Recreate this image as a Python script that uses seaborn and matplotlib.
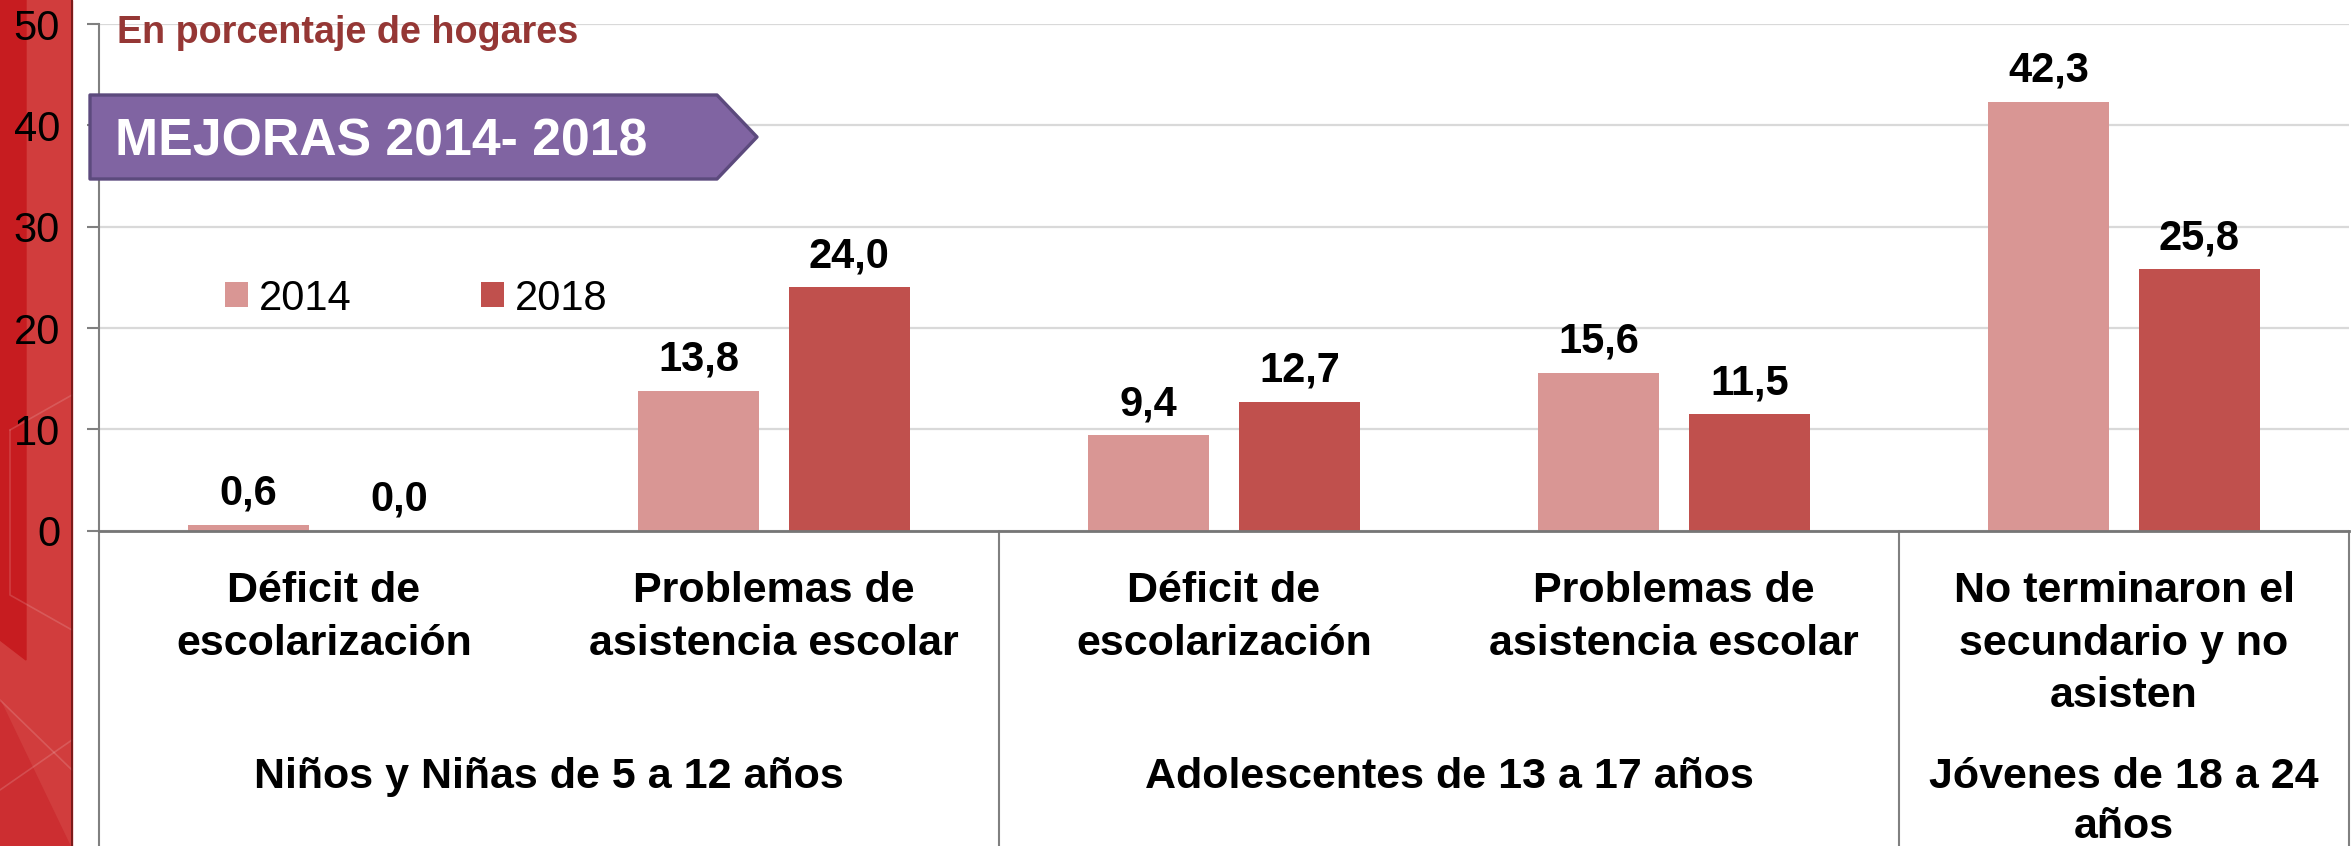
import numpy as np
import pandas as pd
import seaborn as sns
import matplotlib.pyplot as plt
import matplotlib.transforms as mtransforms
from matplotlib.patches import Polygon, Rectangle

W, H = 2351, 846

# data
indicators = ["def_5_12", "asis_5_12", "def_13_17", "asis_13_17", "sec_18_24"]
tick_labels = ["Déficit de\nescolarización", "Problemas de\nasistencia escolar",
               "Déficit de\nescolarización", "Problemas de\nasistencia escolar",
               "No terminaron el\nsecundario y no\nasisten"]
groups = ["Niños y Niñas de 5 a 12 años", "Adolescentes de 13 a 17 años",
          "Jóvenes de 18 a 24\naños"]
group_spans = [(0, 1), (2, 3), (4, 4)]
years = ["2014", "2018"]
values_2014 = [0.6, 13.8, 9.4, 15.6, 42.3]
values_2018 = [0.0, 24.0, 12.7, 11.5, 25.8]
y_ticks = [0, 10, 20, 30, 40, 50]

df = pd.DataFrame({
    "indicador": indicators * 2,
    "anio": [years[0]] * 5 + [years[1]] * 5,
    "valor": values_2014 + values_2018,
})

sns.set_style("white")
plt.rcParams['font.family'] = ['Liberation Sans', 'DejaVu Sans']
plt.rcParams['text.color'] = 'black'
plt.rcParams['xtick.color'] = 'black'
plt.rcParams['ytick.color'] = 'black'


def px(x, y):
    return (x / W, 1 - y / H)


fig = plt.figure(figsize=(W / 100, H / 100), dpi=100)
ax_h = 506.7
ax = fig.add_axes([99 / W, 1 - 530.7 / H, 2250 / W, ax_h / H])

sns.barplot(df, x="indicador", y="valor", hue="anio", order=indicators,
            hue_order=years, palette={"2014": "#D99694", "2018": "#C0504D"},
            width=0.67, gap=0.2, saturation=1, errorbar=None, linewidth=0, ax=ax)

ax.set_ylim(0, 50)
ax.set_xlim(-0.5, 4.5)
ax.set_xlabel("")
ax.set_ylabel("")

for cont, vals in zip(ax.containers, [values_2014, values_2018]):
    ax.bar_label(cont, labels=[f"{v:.1f}".replace(".", ",") for v in vals],
                 padding=8, fontsize=30, fontweight="bold", color="black")

# axes styling
ax.set_axisbelow(True)
ax.yaxis.grid(True, color="#D9D9D9", lw=1.6)
ax.xaxis.grid(False)
for s in ["top", "right"]:
    ax.spines[s].set_visible(False)
ax.spines["left"].set_color("#808080")
ax.spines["left"].set_linewidth(1.5)
ax.spines["bottom"].set_color("#767676")
ax.spines["bottom"].set_linewidth(2)

ax.set_yticks(y_ticks)
ax.tick_params(axis="y", length=8.6, width=1.5, color="#808080", pad=19.4,
               labelsize=30, labelcolor="black", left=True)
ax.set_xticks(range(len(indicators)))
ax.tick_params(axis="x", length=0, labelbottom=False)

# lower category table
blend = mtransforms.blended_transform_factory(ax.transData, ax.transAxes)
for x in [-0.5, 1.5, 3.5, 4.5]:
    ax.plot([x, x], [0, -0.7], transform=blend, clip_on=False,
            color="#808080", lw=1.5)

cat_base, cat_step = -71.3 / ax_h, 52.5 / ax_h
for i, lab in enumerate(tick_labels):
    for j, line in enumerate(lab.split("\n")):
        ax.text(i, cat_base - j * cat_step, line, transform=blend,
                ha="center", va="baseline", fontsize=31, fontweight="bold")

grp_base, grp_step = -257.3 / ax_h, 50 / ax_h
for (a, b), g in zip(group_spans, groups):
    for j, line in enumerate(g.split("\n")):
        ax.text((a + b) / 2, grp_base - j * grp_step, line, transform=blend,
                ha="center", va="baseline", fontsize=31, fontweight="bold")

# legend
sns.move_legend(ax, "center left",
                bbox_to_anchor=((225 - 99) / 2250, (530.7 - 298.5) / ax_h),
                ncol=2, title=None, frameon=False, fontsize=30,
                handlelength=0.55, handleheight=0.55, handletextpad=0.27,
                columnspacing=3.1, borderpad=0, borderaxespad=0)

# red side stripe
fig.add_artist(Rectangle(px(0, 846), 72 / W, 1, transform=fig.transFigure,
                         color="#D13D3D", zorder=-2))
fig.add_artist(Polygon([px(0, 0), px(26, 0), px(26, 660), px(0, 640)],
                       transform=fig.transFigure, color="#C71C20", zorder=-1.5))
fig.add_artist(Polygon([px(0, 700), px(72, 850), px(0, 846)],
                       transform=fig.transFigure, color="#CC2E31", zorder=-1.5))
for seg in [[(10, 430), (10, 595), (72, 630)], [(0, 700), (72, 770)],
            [(0, 790), (72, 740)], [(10, 430), (72, 395)]]:
    xs, ys = zip(*[px(x, y) for x, y in seg])
    fig.add_artist(plt.Line2D(xs, ys, transform=fig.transFigure,
                              color="white", alpha=0.15, lw=1.2, zorder=-1))
fig.add_artist(plt.Line2D([72 / W, 72 / W], [0, 1], transform=fig.transFigure,
                          color="#6B1515", lw=1.2, zorder=-1))

# banner
fig.add_artist(Polygon([px(90, 95), px(717, 95), px(757, 137), px(717, 179),
                        px(90, 179)], closed=True, transform=fig.transFigure,
                       facecolor="#8064A2", edgecolor="#5C4A7D", lw=2.4,
                       joinstyle="round", zorder=2))
fig.text(*px(115, 155), "MEJORAS 2014- 2018", color="white", fontsize=37.3,
         fontweight="bold", va="baseline", ha="left", zorder=3)

fig.text(*px(117, 43), "En porcentaje de hogares", color="#953735",
         fontsize=27.2, fontweight="bold", va="baseline", ha="left")

fig.savefig("out.png", dpi=100)
